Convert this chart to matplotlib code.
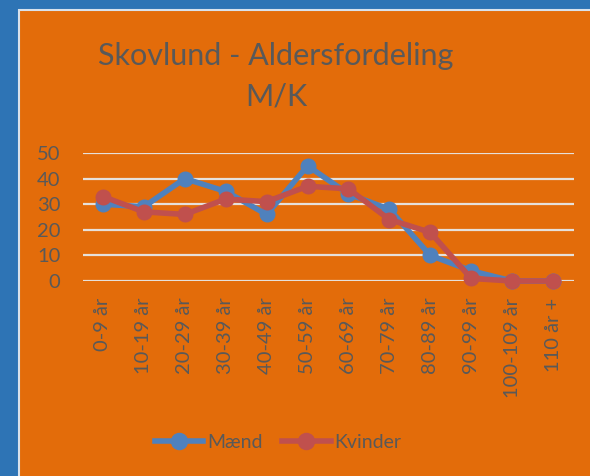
import matplotlib
matplotlib.use("Agg")
import matplotlib.pyplot as plt
from matplotlib.patches import Rectangle

categories = ["0-9 år", "10-19 år", "20-29 år", "30-39 år", "40-49 år", "50-59 år",
              "60-69 år", "70-79 år", "80-89 år", "90-99 år", "100-109 år", "110 år +"]
maend = [30, 29, 40, 35, 26, 45, 34, 28, 10, 4, 0, 0]
kvinder = [33, 27, 26, 32, 31, 37, 36, 24, 19, 1, 0, 0]
yticks = [0, 10, 20, 30, 40, 50]

W, H = 590, 476
BLUE_BG = "#2E74B5"
ORANGE = "#E36C0A"
TXT = "#595959"
C_M = "#4F81BD"
C_K = "#C0504D"
FONT = "Lato"

fig = plt.figure(figsize=(W / 100, H / 100), dpi=100)
fig.patch.set_facecolor(BLUE_BG)

# background axes holding the orange chart panel
bg = fig.add_axes([0, 0, 1, 1], zorder=-10)
bg.set_xlim(0, W)
bg.set_ylim(H, 0)
bg.axis("off")
bg.add_patch(Rectangle((19, 10), W, H, facecolor=ORANGE,
                       edgecolor="#D9E2EC", linewidth=1.5))

ax = fig.add_axes([82.5 / W, (H - 281) / H, (573.5 - 82.5) / W, 128 / H])
ax.set_facecolor("none")
x = list(range(len(categories)))
ax.set_xlim(-0.5, len(categories) - 0.5)
ax.set_ylim(0, 50)
ax.set_yticks(yticks)
ax.set_yticklabels([str(v) for v in yticks])
ax.grid(axis="y", color="#E6E0DA", linewidth=1.6)
ax.set_axisbelow(True)
for s in ax.spines.values():
    s.set_visible(False)
ax.tick_params(axis="y", length=0, pad=16, labelsize=14.5, labelcolor=TXT)
ax.tick_params(axis="x", length=0, pad=12, labelsize=14.5, labelcolor=TXT)
ax.set_xticks(x)
ax.set_xticklabels(categories, rotation=90, va="top", ha="center")
for lbl in ax.get_xticklabels() + ax.get_yticklabels():
    lbl.set_fontfamily(FONT)

ax.plot(x, maend, color=C_M, linewidth=4, marker="o", markersize=10.5,
        label="Mænd", clip_on=False, zorder=3)
ax.plot(x, kvinder, color=C_K, linewidth=4, marker="o", markersize=10.5,
        label="Kvinder", clip_on=False, zorder=4)

fig.text(276 / W, 1 - 76 / H, "Skovlund - Aldersfordeling\nM/K", ha="center",
         va="center", fontsize=22, color=TXT, fontfamily=FONT, linespacing=1.55)

leg = fig.legend(loc="center", bbox_to_anchor=(278 / W, 1 - 442 / H), ncol=2,
                 frameon=False, handlelength=2.5, columnspacing=1.0,
                 handletextpad=0.2, markerscale=1.1,
                 prop={"family": FONT, "size": 14})
for t in leg.get_texts():
    t.set_color(TXT)

fig.savefig("out.png", dpi=100, facecolor=fig.get_facecolor())
